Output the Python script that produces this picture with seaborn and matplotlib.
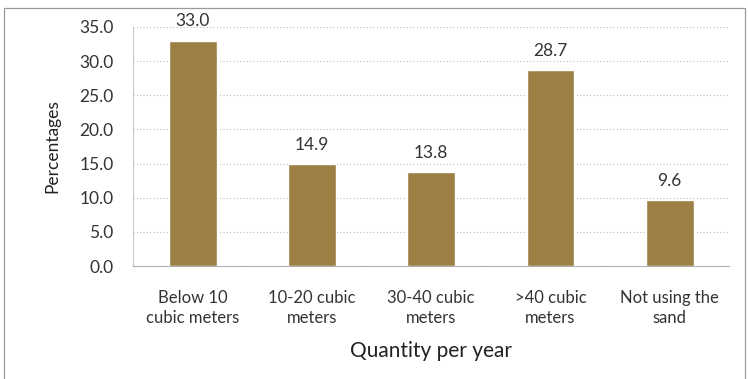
import matplotlib
matplotlib.use("Agg")
import matplotlib.pyplot as plt
import seaborn as sns
import pandas as pd
from matplotlib.patches import Rectangle

categories = ["Below 10\ncubic meters", "10-20 cubic\nmeters", "30-40 cubic\nmeters",
              ">40 cubic\nmeters", "Not using the\nsand"]
percentages = [33.0, 14.9, 13.8, 28.7, 9.6]
y_ticks = [0, 5, 10, 15, 20, 25, 30, 35]

sns.set_theme(style="white")
plt.rcParams["font.family"] = ["Lato", "DejaVu Sans"]

df = pd.DataFrame({"Quantity": categories, "Percent": percentages})

fig = plt.figure(figsize=(7.48, 3.79), dpi=100)
ax = fig.add_axes([0.178, 0.298, 0.797, 0.631])

sns.barplot(data=df, x="Quantity", y="Percent", color="#9C7F45",
            width=0.4, saturation=1, ax=ax, zorder=3)

ax.set_ylim(0, 35)
ax.set_xlim(-0.5, 4.5)
ax.set_yticks(y_ticks)
ax.set_yticklabels([f"{v:.1f}" for v in y_ticks], fontsize=12.5, color="#333333")
ax.tick_params(axis="x", labelsize=12, colors="#333333", length=0, pad=17)
for lbl in ax.get_xticklabels():
    lbl.set_linespacing(1.3)
ax.tick_params(axis="y", length=0, pad=14)
ax.grid(axis="y", linestyle=(0, (1, 2)), color="#bdbdbd", linewidth=0.8, zorder=0)
ax.set_xlabel("Quantity per year", fontsize=15, color="#222222", labelpad=11)
ax.set_ylabel("Percentages", fontsize=12.5, color="#222222", labelpad=14)

for side in ["top", "right"]:
    ax.spines[side].set_visible(False)
ax.spines["left"].set_color("#c8c8c8")
ax.spines["left"].set_linewidth(0.8)
ax.spines["bottom"].set_color("#b0b0b0")
ax.spines["bottom"].set_linewidth(0.8)

for i, v in enumerate(percentages):
    ax.annotate(f"{v:.1f}", (i, v), xytext=(0, 8), textcoords="offset points",
                ha="center", va="bottom", fontsize=12.5, color="#333333",
                annotation_clip=False)

fig.patches.append(Rectangle((4 / 748, -0.01), 741 / 748, 1 - 8 / 379 + 0.01,
                             transform=fig.transFigure, fill=False,
                             edgecolor="#9a9a9a", linewidth=0.9))

fig.savefig("out.png", dpi=100)
